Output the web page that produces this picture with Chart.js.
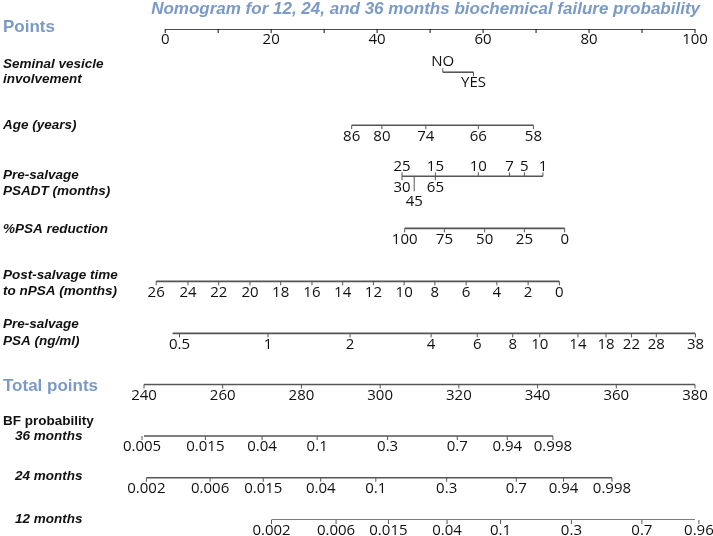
<!DOCTYPE html>
<html>
<head>
<meta charset="utf-8">
<script src="https://cdn.jsdelivr.net/npm/chart.js@4/dist/chart.umd.min.js"></script>
<style>
  html, body { margin: 0; padding: 0; background: #fff; }
  #wrap { width: 713px; height: 536px; position: relative; }
</style>
</head>
<body>
<div id="wrap"><canvas id="nomo"></canvas></div>
<script>
// ---- data (positions on the Points / Total points scales) ----
const pointTicks  = [0, 10, 20, 30, 40, 50, 60, 70, 80, 90, 100];
const pointLabels = ['0', '', '20', '', '40', '', '60', '', '80', '', '100'];

const svLabels = ['NO', 'YES'];
const svPoints = [52.4, 58.2];

const ageLabels = ['86', '80', '74', '66', '58'];
const agePoints = [35.2, 40.9, 49.2, 59.1, 69.5];

const psadtLabels = ['25', '30', '45', '15', '65', '10', '7', '5', '1'];
const psadtPoints = [44.7, 44.7, 47.0, 51.0, 51.0, 59.1, 65.0, 67.8, 71.3];

const psaRedLabels = ['100', '75', '50', '25', '0'];
const psaRedPoints = [45.2, 52.7, 60.3, 67.8, 75.4];

const npsaLabels = ['26', '24', '22', '20', '18', '16', '14', '12', '10', '8', '6', '4', '2', '0'];
const npsaPoints = [-1.7, 4.3, 10.1, 16.0, 21.8, 27.7, 33.5, 39.3, 45.1, 50.9, 56.8, 62.6, 68.5, 74.4];

const psaLabels = ['0.5', '1', '2', '4', '6', '8', '10', '14', '18', '22', '28', '38'];
const psaPoints = [2.7, 19.4, 34.9, 50.2, 58.9, 65.6, 70.7, 77.9, 83.2, 88.0, 92.7, 100.1];
const psaLineStart = 1.4;

const totalTicks  = [240, 260, 280, 300, 320, 340, 360, 380];

const bf36Labels = ['0.005', '0.015', '0.04', '0.1', '0.3', '0.7', '0.94', '0.998'];
const bf36Total  = [239.5, 255.6, 270.0, 284.0, 301.9, 319.6, 332.3, 343.9];

const bf24Labels = ['0.002', '0.006', '0.015', '0.04', '0.1', '0.3', '0.7', '0.94', '0.998'];
const bf24Total  = [240.6, 256.8, 270.3, 284.9, 298.9, 316.9, 334.6, 346.6, 358.9];

const bf12Labels = ['0.002', '0.006', '0.015', '0.04', '0.1', '0.3', '0.7', '0.96'];
const bf12Total  = [272.4, 288.8, 302.1, 317.0, 330.6, 348.6, 366.5, 381.0];

// ---- layout ----
const rowPos = [0, 0.88, 1.96, 3.0, 4.06, 5.14, 6.2, 7.24, 8.29, 9.14, 10];
const psadtSide = ['up', 'down', 'down2', 'up', 'down', 'up', 'up', 'up', 'up'];
const svSide = ['up', 'down'];

const BLUE = '#7b9ac6';
const LINE = '#555';
const TICKFONT = '15px "Open Sans", sans-serif';

const rows = [
  { axis: 'x',  ticks: pointTicks,   labels: pointLabels,  color: '#111' },
  { axis: 'x',  ticks: svPoints,     labels: svLabels,     side: svSide },
  { axis: 'x',  ticks: agePoints,    labels: ageLabels },
  { axis: 'x',  ticks: psadtPoints,  labels: psadtLabels,  side: psadtSide },
  { axis: 'x',  ticks: psaRedPoints, labels: psaRedLabels },
  { axis: 'x',  ticks: npsaPoints,   labels: npsaLabels },
  { axis: 'x',  ticks: psaPoints,    labels: psaLabels,    start: psaLineStart },
  { axis: 'xt', ticks: totalTicks,   labels: totalTicks.map(String) },
  { axis: 'xt', ticks: bf36Total,    labels: bf36Labels },
  { axis: 'xt', ticks: bf24Total,    labels: bf24Labels },
  { axis: 'xt', ticks: bf12Total,    labels: bf12Labels }
];
rows.forEach((r, i) => { r.row = rowPos[i]; });

// left side names: [row index, text, dy, font, colour, x]
const ITAL = 'italic bold 13.5px "Liberation Sans", Arial, sans-serif';
const BIG  = 'bold 17px "Liberation Sans", Arial, sans-serif';
const names = [
  [0, 'Points', -2, BIG, BLUE, 3],
  [1, 'Seminal vesicle', -8, ITAL, '#111', 3],
  [1, 'involvement', 7, ITAL, '#111', 3],
  [2, 'Age (years)', 0, ITAL, '#111', 3],
  [3, 'Pre-salvage', -1, ITAL, '#111', 3],
  [3, 'PSADT (months)', 15, ITAL, '#111', 3],
  [4, '%PSA reduction', 1, ITAL, '#111', 3],
  [5, 'Post-salvage time', -6, ITAL, '#111', 3],
  [5, 'to nPSA (months)', 10, ITAL, '#111', 3],
  [6, 'Pre-salvage', -9, ITAL, '#111', 3],
  [6, 'PSA (ng/ml)', 8, ITAL, '#111', 3],
  [7, 'Total points', 2, BIG, BLUE, 3],
  [8, 'BF probability', -15, 'bold 13.5px "Liberation Sans", Arial, sans-serif', '#111', 3],
  [8, '36 months', 0, ITAL, '#111', 15],
  [9, '24 months', -1, ITAL, '#111', 15],
  [10, '12 months', -1, ITAL, '#111', 15]
];

const datasets = rows.map(r => ({
  xAxisID: r.axis,
  showLine: true,
  borderColor: r.color || LINE,
  borderWidth: 1.6,
  pointRadius: 0,
  data: [
    { x: r.start !== undefined ? r.start : Math.min(...r.ticks), y: r.row },
    { x: Math.max(...r.ticks), y: r.row }
  ]
}));

const nomoPlugin = {
  id: 'nomo',
  afterDatasetsDraw(chart) {
    const ctx = chart.ctx;
    const ys = chart.scales.y;
    ctx.save();
    rows.forEach(r => {
      const xs = chart.scales[r.axis];
      const py = ys.getPixelForValue(r.row);
      ctx.strokeStyle = r.color || LINE;
      ctx.lineWidth = 1;
      ctx.fillStyle = '#111';
      ctx.font = TICKFONT;
      ctx.textAlign = 'center';
      ctx.textBaseline = 'middle';
      r.ticks.forEach((v, i) => {
        const px = xs.getPixelForValue(v);
        const side = r.side ? r.side[i] : 'down';
        const len = side === 'down2' ? 15 : (side === 'up' ? -4 : 4);
        ctx.beginPath();
        ctx.moveTo(px, py);
        ctx.lineTo(px, py + len);
        ctx.stroke();
        const ly = side === 'up' ? py - 10 : (side === 'down2' ? py + 25 : py + 11);
        if (r.labels[i]) ctx.fillText(r.labels[i], px, ly);
      });
    });
    // row names
    ctx.textAlign = 'left';
    names.forEach(n => {
      ctx.font = n[3];
      ctx.fillStyle = n[4];
      ctx.fillText(n[1], n[5], ys.getPixelForValue(rowPos[n[0]]) + n[2]);
    });
    // title
    ctx.font = 'italic bold 17px "Liberation Sans", Arial, sans-serif';
    ctx.fillStyle = BLUE;
    ctx.textAlign = 'right';
    ctx.fillText('Nomogram for 12, 24, and 36 months biochemical failure probability', 700, 9);
    ctx.restore();
  }
};

new Chart(document.getElementById('nomo'), {
  type: 'scatter',
  data: { datasets: datasets },
  options: {
    responsive: true,
    maintainAspectRatio: false,
    animation: false,
    layout: { padding: { left: 144, right: 18, top: 29, bottom: 16 } },
    plugins: { legend: { display: false }, tooltip: { enabled: false }, title: { display: false } },
    scales: {
      x:  { type: 'linear', min: -4, max: 100, display: false },
      xt: { type: 'linear', min: 240, max: 380, display: false },
      y:  { type: 'linear', min: 0, max: 10, reverse: true, display: false }
    }
  },
  plugins: [nomoPlugin]
});
</script>
</body>
</html>
